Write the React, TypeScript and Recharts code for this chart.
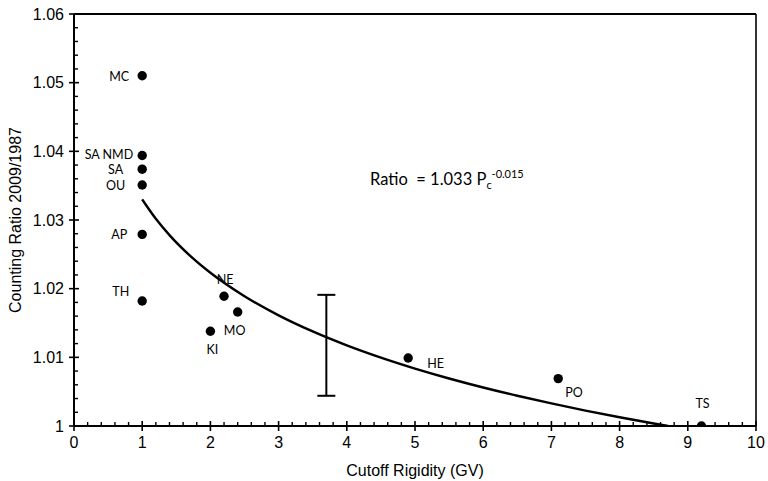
import React from 'react';
import { ComposedChart, XAxis, YAxis, Scatter, Line, ReferenceLine, ErrorBar, Label } from 'recharts';

// Neutron monitor stations: cutoff rigidity (GV) and counting ratio 2009/1987
const stations = ['MC', 'SA NMD', 'SA', 'OU', 'AP', 'TH', 'NE', 'KI', 'MO', 'HE', 'PO', 'TS'];
const rigidity = [1, 1, 1, 1, 1, 1, 2.2, 2.0, 2.4, 4.9, 7.1, 9.2];
const countRatio = [1.051, 1.0394, 1.0374, 1.0351, 1.0279, 1.0182, 1.0189, 1.0138, 1.0166, 1.0099, 1.0069, 1.0];

// Fitted power law: Ratio = A * Pc^B
const fitA = 1.033;
const fitB = -0.015;
const fitRigidity = [1, 1.2, 1.4, 1.7, 2, 2.5, 3, 3.5, 4, 4.5, 5, 5.5, 6, 6.5, 7, 7.5, 8, 8.5, 8.71];

// Typical uncertainty bar
const errRigidity = [3.7];
const errLow = [1.0044];
const errHigh = [1.0191];

// Axis ticks
const xMajorTicks = [0, 1, 2, 3, 4, 5, 6, 7, 8, 9, 10];
const yMajorTicks = [1, 1.01, 1.02, 1.03, 1.04, 1.05, 1.06];
const minorPerMajor = 5;

const withMinor = (majors: number[]) => {
  const out: number[] = [];
  for (let i = 0; i < majors.length; i++) {
    out.push(majors[i]);
    if (i < majors.length - 1) {
      const step = (majors[i + 1] - majors[i]) / minorPerMajor;
      for (let k = 1; k < minorPerMajor; k++) out.push(+(majors[i] + k * step).toFixed(6));
    }
  }
  return out;
};
const xTicks = withMinor(xMajorTicks);
const yTicks = withMinor(yMajorTicks);
const isMajor = (v: number, majors: number[]) => majors.some((m) => Math.abs(m - v) < 1e-9);

const stationData = stations.map((name, i) => ({ name, x: rigidity[i], y: countRatio[i] }));
const fitData = fitRigidity.map((x) => ({ x, y: fitA * Math.pow(x, fitB) }));
const errData = errRigidity.map((x, i) => ({
  x,
  y: (errLow[i] + errHigh[i]) / 2,
  err: (errHigh[i] - errLow[i]) / 2,
}));

const labelPlacement: Record<string, { dx: number; dy: number; anchor: 'start' | 'middle' | 'end' }> = {
  MC: { dx: -13, dy: 1, anchor: 'end' },
  'SA NMD': { dx: -9, dy: -1, anchor: 'end' },
  SA: { dx: -19, dy: 0.5, anchor: 'end' },
  OU: { dx: -17, dy: 1, anchor: 'end' },
  AP: { dx: -15, dy: 0, anchor: 'end' },
  TH: { dx: -13, dy: -9.5, anchor: 'end' },
  NE: { dx: 1, dy: -17, anchor: 'middle' },
  KI: { dx: 2, dy: 18, anchor: 'middle' },
  MO: { dx: -3, dy: 18, anchor: 'middle' },
  HE: { dx: 19, dy: 5, anchor: 'start' },
  PO: { dx: 7, dy: 14, anchor: 'start' },
  TS: { dx: 1, dy: -23, anchor: 'middle' },
};

const labelFont = 'Lato, "Open Sans", sans-serif';
const axisFont = '"Liberation Sans", Arial, sans-serif';

const StationDot = (props: any) => {
  const { cx, cy, payload } = props;
  const p = labelPlacement[payload.name];
  return (
    <g>
      <circle cx={cx} cy={cy} r={4.7} fill="#000" />
      <text
        x={cx + p.dx}
        y={cy + p.dy}
        textAnchor={p.anchor}
        dominantBaseline="central"
        fontSize={12.5}
        fontFamily={labelFont}
        fill="#000"
      >
        {payload.name}
      </text>
    </g>
  );
};

const XTick = (props: any) => {
  const { x, y, payload } = props;
  const v = payload.value;
  if (isMajor(v, xMajorTicks)) {
    return (
      <g>
        <line x1={x} x2={x} y1={y - 5} y2={y + 5} stroke="#000" strokeWidth={1.6} />
        <text x={x} y={y + 21.5} textAnchor="middle" fontSize={16} fontFamily={axisFont} fill="#000">
          {String(Math.round(v))}
        </text>
      </g>
    );
  }
  return <line x1={x} x2={x} y1={y - 4} y2={y} stroke="#000" strokeWidth={1.4} />;
};

const YTick = (props: any) => {
  const { x, y, payload } = props;
  const v = payload.value;
  if (isMajor(v, yMajorTicks)) {
    return (
      <g>
        <line x1={x - 5} x2={x + 5} y1={y} y2={y} stroke="#000" strokeWidth={1.6} />
        <text x={x - 10} y={y + 5.5} textAnchor="end" fontSize={16} fontFamily={axisFont} fill="#000">
          {Math.abs(v - 1) < 1e-9 ? '1' : v.toFixed(2)}
        </text>
      </g>
    );
  }
  return <line x1={x} x2={x + 4} y1={y} y2={y} stroke="#000" strokeWidth={1.4} />;
};

export default function App() {
  return (
    <div style={{ position: 'absolute', left: 0, top: 0, width: 768, height: 481, background: '#fff' }}>
      <ComposedChart width={768} height={481} margin={{ top: 14, right: 12, left: 14, bottom: 0 }}>
        <XAxis
          type="number"
          dataKey="x"
          domain={[0, 10]}
          ticks={xTicks}
          interval={0}
          tickLine={false}
          tickSize={0}
          tickMargin={0}
          tick={<XTick />}
          axisLine={{ stroke: '#000', strokeWidth: 2 }}
          height={55}
          allowDataOverflow
        >
          <Label
            value="Cutoff Rigidity (GV)"
            position="insideBottom"
            offset={5}
            fontSize={16}
            fontFamily={axisFont}
            fill="#000"
          />
        </XAxis>
        <YAxis
          type="number"
          domain={[1, 1.06]}
          ticks={yTicks}
          interval={0}
          tickLine={false}
          tickSize={0}
          tickMargin={0}
          tick={<YTick />}
          axisLine={{ stroke: '#000', strokeWidth: 2 }}
          width={60}
          allowDataOverflow
        >
          <Label
            value="Counting Ratio 2009/1987"
            angle={-90}
            position="insideLeft"
            offset={1}
            fontSize={16}
            fontFamily={axisFont}
            fill="#000"
            style={{ textAnchor: 'middle' }}
          />
        </YAxis>
        <ReferenceLine y={1.06} stroke="#000" strokeWidth={2} ifOverflow="extendDomain" />
        <ReferenceLine x={10} stroke="#000" strokeWidth={1.6} ifOverflow="extendDomain" />
        <Line
          data={fitData}
          dataKey="y"
          type="monotone"
          stroke="#000"
          strokeWidth={2.4}
          dot={false}
          activeDot={false}
          isAnimationActive={false}
        />
        <Scatter data={errData} dataKey="y" shape={() => <g />} isAnimationActive={false}>
          <ErrorBar dataKey="err" direction="y" width={9} stroke="#000" strokeWidth={2} isAnimationActive={false} />
        </Scatter>
        <Scatter data={stationData} dataKey="y" shape={<StationDot />} isAnimationActive={false} />
      </ComposedChart>
      <div
        style={{
          position: 'absolute',
          left: 370,
          top: 169,
          fontFamily: labelFont,
          fontSize: 16.5,
          lineHeight: '20px',
          color: '#000',
          whiteSpace: 'pre',
        }}
      >
        {'Ratio  = 1.033 P'}
        <span style={{ fontSize: 11, position: 'relative', top: 4 }}>c</span>
        <span style={{ fontSize: 11, position: 'relative', top: -7 }}>-0.015</span>
      </div>
    </div>
  );
}
